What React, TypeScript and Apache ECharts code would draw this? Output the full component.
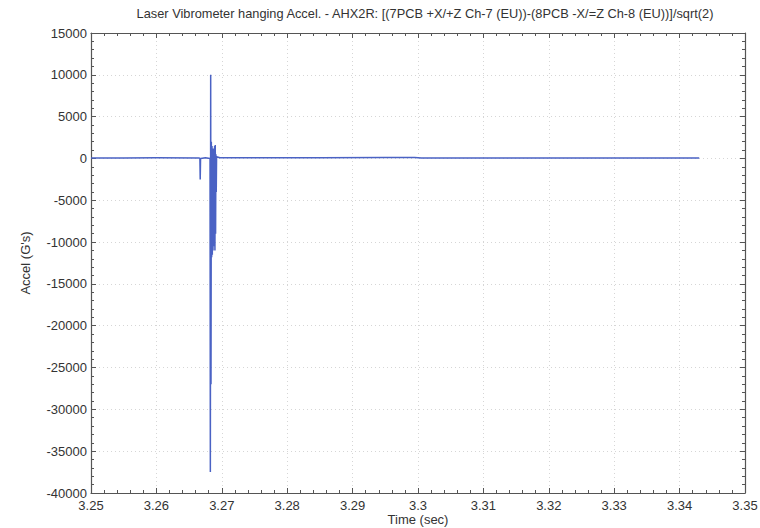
import React, { useEffect, useRef } from "react";
import * as echarts from "echarts";

const titleText =
  "Laser Vibrometer hanging Accel. - AHX2R: [(7PCB +X/+Z Ch-7 (EU))-(8PCB -X/=Z Ch-8 (EU))]/sqrt(2)";
const xName = "Time (sec)";
const yName = "Accel (G's)";

// time (sec) samples
const times = [
  3.25, 3.255, 3.26, 3.2665, 3.26665, 3.2667, 3.26675, 3.2675, 3.2682,
  3.26825, 3.2683, 3.26835, 3.2684, 3.26845, 3.2685, 3.26855, 3.2686,
  3.26865, 3.2687, 3.26875, 3.2688, 3.26885, 3.2689, 3.26895, 3.269,
  3.26905, 3.2691, 3.26915, 3.2692, 3.2697, 3.275, 3.285, 3.295, 3.2995,
  3.3005, 3.31, 3.32, 3.33, 3.343,
];
// acceleration (G's) values
const accel = [
  60, 60, 70, 60, 0, -2500, 0, 80, 0,
  -37500, 10000, -27000, 2000, -11800, 1500, -11500, 1000,
  -11000, 1200, -10500, 800, -10000, 1500, -11000, 1600,
  -9000, 500, -4000, 200, 80, 80, 90, 100, 100,
  40, 40, 50, 50, 60,
];

const xMin = 3.25;
const xMax = 3.35;
const xStep = 0.01;
const yMin = -40000;
const yMax = 15000;
const yStep = 5000;

export default function App() {
  const ref = useRef<HTMLDivElement>(null);
  useEffect(() => {
    if (!ref.current) return;
    const chart = echarts.init(ref.current, null, { renderer: "svg" });
    const font = "Liberation Sans";
    const axisColor = "#555";
    const gridLine = { show: true, lineStyle: { color: "#d6d6d6", type: [1, 3] as any, width: 1 } };
    const tick = { show: true, inside: true, length: 5, lineStyle: { color: axisColor } };
    const minor = { show: true, splitNumber: 5, length: 3, lineStyle: { color: axisColor } };
    const axisLine = { show: true, onZero: false, lineStyle: { color: axisColor, width: 1.2 } };
    chart.setOption({
      animation: false,
      backgroundColor: "#fff",
      title: {
        text: titleText,
        left: 420,
        textAlign: "center",
        top: 2,
        textStyle: { fontFamily: font, fontSize: 12.8, fontWeight: "normal", color: "#333" },
      },
      grid: { left: 91, right: 15, top: 33, bottom: 35, containLabel: false, outerBoundsMode: "none" },
      xAxis: [
        {
          type: "value",
          min: xMin,
          max: xMax,
          interval: xStep,
          position: "bottom",
          name: xName,
          nameLocation: "middle",
          nameGap: 20,
          nameMoveOverlap: false,
          nameTextStyle: { fontFamily: font, fontSize: 13, color: "#333" },
          axisLine,
          axisTick: tick,
          minorTick: minor,
          splitLine: gridLine,
          axisLabel: {
            fontFamily: font,
            fontSize: 13,
            color: "#333",
            margin: 6,
            formatter: (v: number) => String(parseFloat(v.toFixed(2))),
          },
        },
        {
          type: "value",
          min: xMin,
          max: xMax,
          interval: xStep,
          position: "top",
          axisLine,
          axisTick: tick,
          minorTick: minor,
          splitLine: { show: false },
          axisLabel: { show: false },
        },
      ],
      yAxis: [
        {
          type: "value",
          min: yMin,
          max: yMax,
          interval: yStep,
          position: "left",
          name: yName,
          nameLocation: "middle",
          nameGap: 59,
          nameMoveOverlap: false,
          nameTextStyle: { fontFamily: font, fontSize: 13, color: "#333" },
          axisLine,
          axisTick: tick,
          minorTick: minor,
          splitLine: gridLine,
          axisLabel: {
            fontFamily: font,
            fontSize: 13,
            color: "#333",
            margin: 4,
            formatter: (v: number) => String(v),
          },
        },
        {
          type: "value",
          min: yMin,
          max: yMax,
          interval: yStep,
          position: "right",
          axisLine,
          axisTick: tick,
          minorTick: minor,
          splitLine: { show: false },
          axisLabel: { show: false },
        },
      ],
      series: [
        {
          type: "line",
          xAxisIndex: 0,
          yAxisIndex: 0,
          data: times.map((t, i) => [t, accel[i]]),
          showSymbol: false,
          symbol: "none",
          lineStyle: { color: "#4a62c4", width: 1.5 },
        },
      ],
    });
    return () => chart.dispose();
  }, []);
  return <div ref={ref} style={{ width: 760, height: 528, position: "absolute", left: 0, top: 0 }} />;
}
